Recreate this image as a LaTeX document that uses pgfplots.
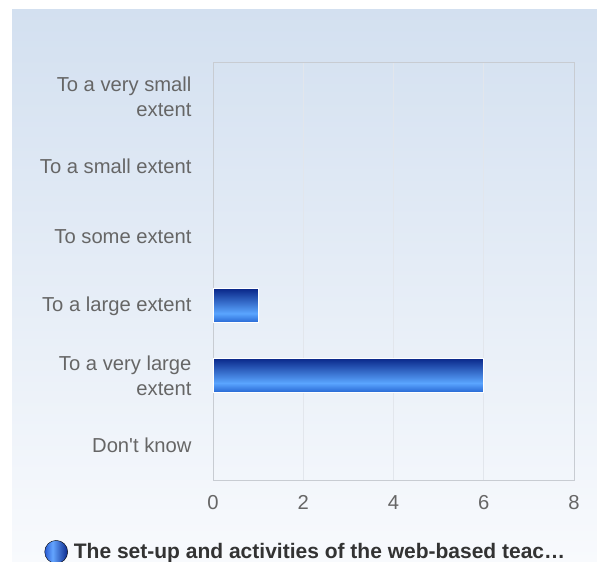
\documentclass[border=0pt]{standalone}
\usepackage{fontspec}
\setmainfont{Liberation Sans}
\usepackage{pgfplots}
\usepackage{pgfplotstable}
\pgfplotsset{compat=1.18}
\definecolor{bgtop}{RGB}{211,224,240}
\definecolor{bgbot}{RGB}{248,250,253}
\definecolor{bartop}{RGB}{10,40,138}
\definecolor{barlight}{RGB}{90,165,255}
\definecolor{barbot}{RGB}{38,102,210}
\definecolor{legl}{RGB}{40,90,210}
\definecolor{legm}{RGB}{100,165,255}
\definecolor{legd}{RGB}{10,40,140}
\definecolor{labgray}{RGB}{102,102,102}
\definecolor{gridc}{RGB}{226,230,236}
\definecolor{framec}{RGB}{200,204,210}
\pgfdeclareverticalshading{barshade}{100bp}{color(0bp)=(barbot); color(25bp)=(barbot); color(39bp)=(barlight); color(75bp)=(bartop); color(100bp)=(bartop)}
\pgfdeclarehorizontalshading{legshade}{100bp}{color(0bp)=(legl); color(25bp)=(legl); color(42bp)=(legm); color(75bp)=(legd); color(100bp)=(legd)}
\pgfplotstableread{
cat val
0 0
1 0
2 0
3 1
4 6
5 0
}\datatable
\begin{document}
\begin{tikzpicture}
\fill[white] (0pt,0pt) rectangle (597pt,-562pt);
\shade[top color=bgtop, bottom color=bgbot] (12pt,-9pt) rectangle (597pt,-562pt);
\begin{scope}
\clip (0pt,0pt) rectangle (597pt,-562pt);
\begin{axis}[
  at={(213pt,-480pt)}, anchor=south west,
  scale only axis, width=361pt, height=418pt,
  xmin=0, xmax=8, ymin=-0.5, ymax=5.5, y dir=reverse,
  xtick={0,2,4,6,8}, ytick={0,1,2,3,4,5},
  yticklabels={{To a very small\\extent},{To a small extent},{To some extent},{To a large extent},{To a very large\\extent},{Don\textquotesingle t know}},
  major tick length=0pt,
  xmajorgrids, grid style={gridc, line width=0.8pt},
  axis line style={framec, line width=0.8pt},
  /pgf/number format/assume math mode=true,
  tick label style={font=\fontsize{20.2}{25}\selectfont, text=labgray},
  yticklabel style={align=right, xshift=-18pt},
  xticklabel style={yshift=-12pt},
  unbounded coords=discard,
  legend style={at={(-0.4756,-0.172)}, anchor=west, draw=none, fill=none, font=\bfseries\fontsize{21}{24}\selectfont, text={black!80}},
]
\pgfplotsinvokeforeach{0,...,5}{
\addplot[xbar, draw=white, line width=1pt, shading=barshade, bar width=34pt, forget plot,
  x filter/.expression={x==0 ? nan : x},
  y filter/.expression={y==#1 ? y : nan}]
  table[x=val, y=cat] {\datatable};
}
\addlegendimage{legend image code/.code={\shade[shading=legshade] (0pt,0pt) circle (11.5pt); \path (15.5pt,0pt);}}
\addlegendentry{The set-up and activities of the web-based teac\dots}
\end{axis}
\end{scope}
\end{tikzpicture}
\end{document}
